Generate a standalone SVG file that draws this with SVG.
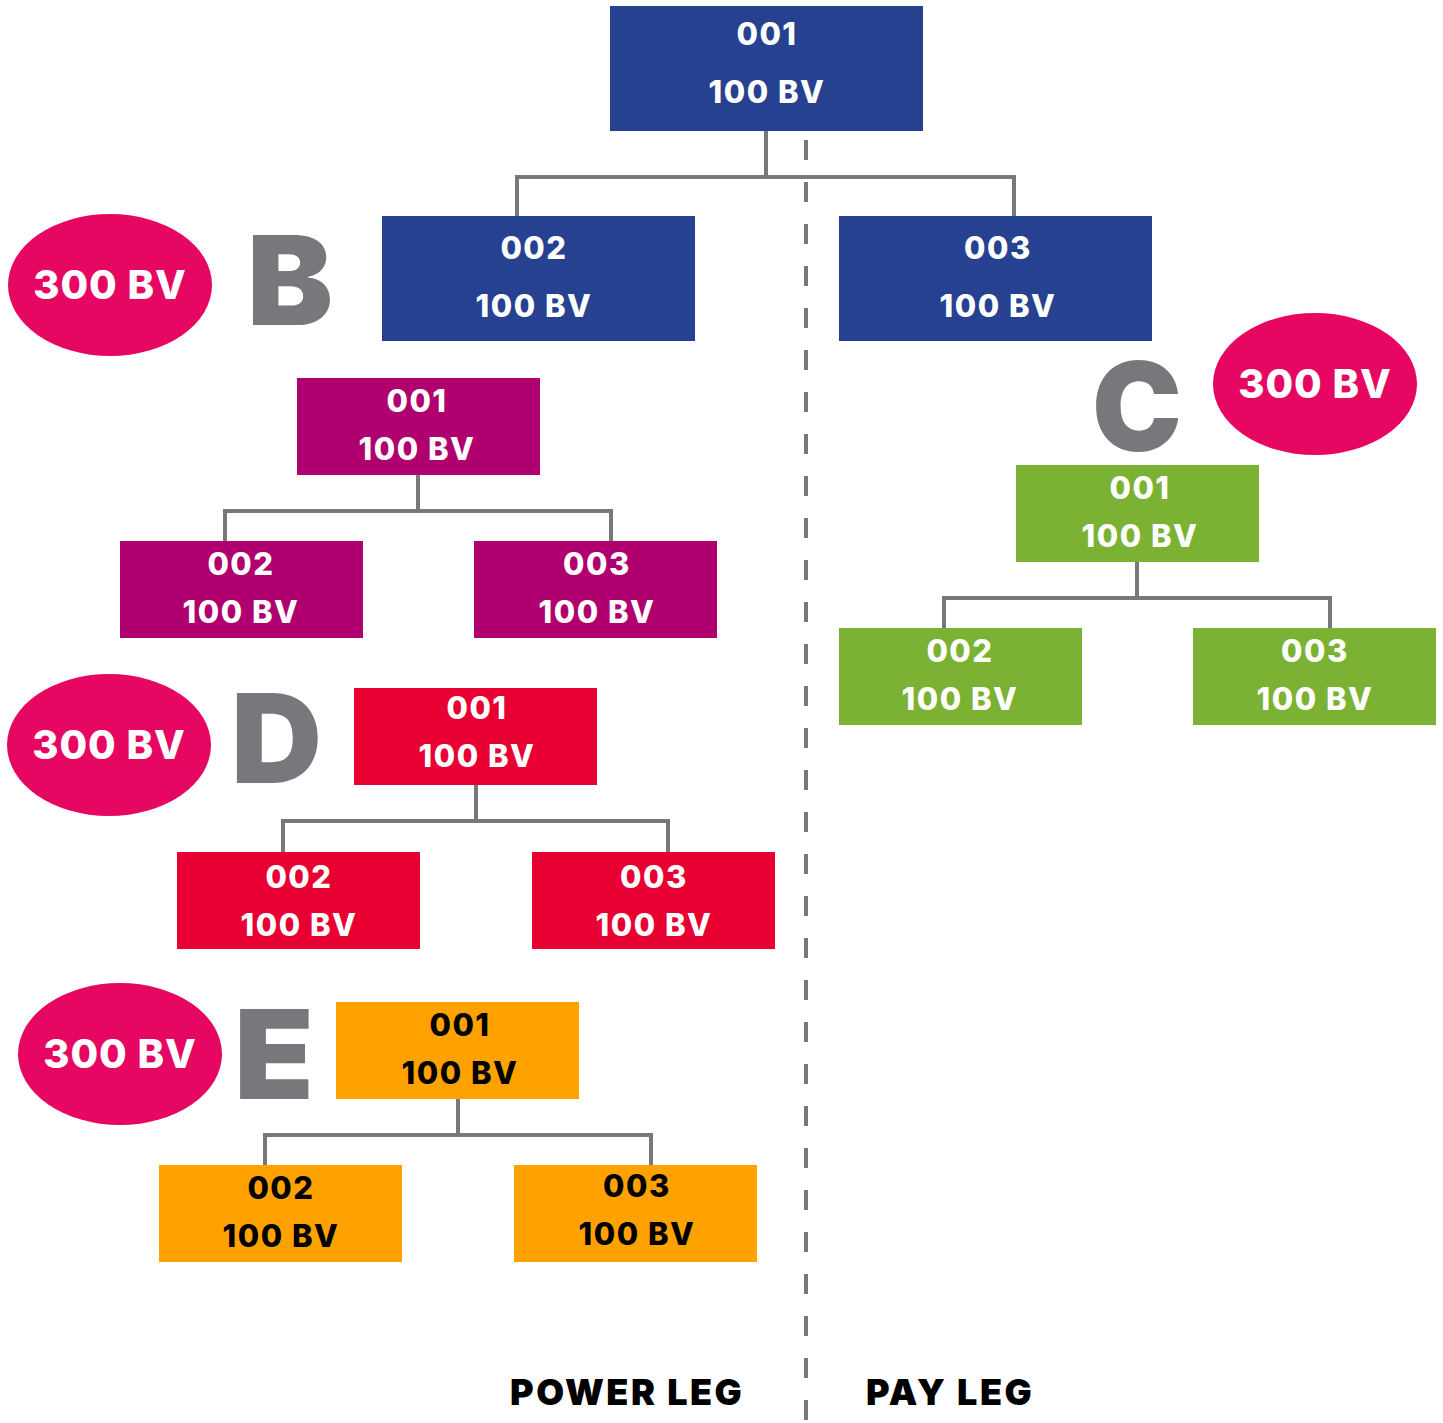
<svg xmlns="http://www.w3.org/2000/svg" width="1443" height="1423" viewBox="0 0 1443 1423">
<style>
.t{font-family:Inter,"Open Sans","Liberation Sans",sans-serif;font-weight:800;font-size:31px;text-anchor:middle;fill:#fff;letter-spacing:1.5px}
.tb{fill:#000}
.ov{font-family:Inter,"Open Sans","Liberation Sans",sans-serif;font-weight:800;font-size:40px;text-anchor:middle;fill:#fff;letter-spacing:1px}
.big{font-family:Inter,"Open Sans","Liberation Sans",sans-serif;font-weight:900;font-size:124px;fill:#77787b}
.leg{font-family:Inter,"Open Sans","Liberation Sans",sans-serif;font-weight:900;font-size:36px;fill:#000;letter-spacing:2.5px}
.ln{fill:none;stroke:#77787b;stroke-width:4}
.blue{fill:#26418f}.purple{fill:#b0006f}.green{fill:#7bb233}.red{fill:#e90032}.orange{fill:#ffa200}
.ell{fill:#e60762}
</style>
<rect width="1443" height="1423" fill="#fff"/>
<g id="connectors">
<path class="ln" d="M766 131V177M517 216V177H1014V216"/>
<path class="ln" d="M418 475V511M225 541V511H611V541"/>
<path class="ln" d="M1137 562V598M944 628V598H1330V628"/>
<path class="ln" d="M476 785V821M283 852V821H668V852"/>
<path class="ln" d="M458 1099V1135M265 1165V1135H651V1165"/>
<line x1="806" y1="140" x2="806" y2="1423" stroke="#77787b" stroke-width="4" stroke-dasharray="20 22"/>
</g>
<g id="blue-001"><rect class="blue" x="610" y="6" width="313" height="125"/><text class="t" x="767" y="45">001</text><text class="t" x="767" y="103">100 BV</text></g>
<g id="blue-002"><rect class="blue" x="382" y="216" width="313" height="125"/><text class="t" x="534" y="259">002</text><text class="t" x="534" y="317">100 BV</text></g>
<g id="blue-003"><rect class="blue" x="839" y="216" width="313" height="125"/><text class="t" x="998" y="259">003</text><text class="t" x="998" y="317">100 BV</text></g>

<g id="label-B"><ellipse class="ell" cx="110" cy="285" rx="102" ry="71"/><text class="ov" x="110" y="299">300 BV</text><text class="big" x="247" y="325" textLength="86" lengthAdjust="spacingAndGlyphs">B</text></g>
<g id="label-C"><ellipse class="ell" cx="1315" cy="384" rx="102" ry="71"/><text class="ov" x="1315" y="398">300 BV</text><text class="big" x="1092" y="451" textLength="90" lengthAdjust="spacingAndGlyphs">C</text></g>
<g id="label-D"><ellipse class="ell" cx="109" cy="745" rx="102" ry="71"/><text class="ov" x="109" y="759">300 BV</text><text class="big" x="231" y="783" textLength="91" lengthAdjust="spacingAndGlyphs">D</text></g>
<g id="label-E"><ellipse class="ell" cx="120" cy="1054" rx="102" ry="71"/><text class="ov" x="120" y="1068">300 BV</text><text class="big" x="234" y="1099" textLength="80" lengthAdjust="spacingAndGlyphs">E</text></g>

<g id="purple-001"><rect class="purple" x="297" y="378" width="243" height="97"/><text class="t" x="417" y="412">001</text><text class="t" x="417" y="460">100 BV</text></g>
<g id="purple-002"><rect class="purple" x="120" y="541" width="243" height="97"/><text class="t" x="241" y="575">002</text><text class="t" x="241" y="623">100 BV</text></g>
<g id="purple-003"><rect class="purple" x="474" y="541" width="243" height="97"/><text class="t" x="597" y="575">003</text><text class="t" x="597" y="623">100 BV</text></g>

<g id="green-001"><rect class="green" x="1016" y="465" width="243" height="97"/><text class="t" x="1140" y="499">001</text><text class="t" x="1140" y="547">100 BV</text></g>
<g id="green-002"><rect class="green" x="839" y="628" width="243" height="97"/><text class="t" x="960" y="662">002</text><text class="t" x="960" y="710">100 BV</text></g>
<g id="green-003"><rect class="green" x="1193" y="628" width="243" height="97"/><text class="t" x="1315" y="662">003</text><text class="t" x="1315" y="710">100 BV</text></g>

<g id="red-001"><rect class="red" x="354" y="688" width="243" height="97"/><text class="t" x="477" y="719">001</text><text class="t" x="477" y="767">100 BV</text></g>
<g id="red-002"><rect class="red" x="177" y="852" width="243" height="97"/><text class="t" x="299" y="888">002</text><text class="t" x="299" y="936">100 BV</text></g>
<g id="red-003"><rect class="red" x="532" y="852" width="243" height="97"/><text class="t" x="654" y="888">003</text><text class="t" x="654" y="936">100 BV</text></g>

<g id="orange-001"><rect class="orange" x="336" y="1002" width="243" height="97"/><text class="t tb" x="460" y="1036">001</text><text class="t tb" x="460" y="1084">100 BV</text></g>
<g id="orange-002"><rect class="orange" x="159" y="1165" width="243" height="97"/><text class="t tb" x="281" y="1199">002</text><text class="t tb" x="281" y="1247">100 BV</text></g>
<g id="orange-003"><rect class="orange" x="514" y="1165" width="243" height="97"/><text class="t tb" x="637" y="1197">003</text><text class="t tb" x="637" y="1245">100 BV</text></g>

<text class="leg" x="510" y="1405">POWER LEG</text>
<text class="leg" x="866" y="1405">PAY LEG</text>
</svg>
